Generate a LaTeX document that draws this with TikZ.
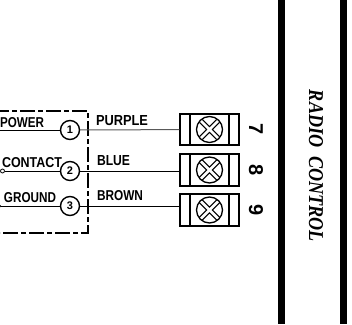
\documentclass[tikz,border=0pt]{standalone}
\usepackage{fontspec}
\setmainfont{Liberation Sans}
\newfontfamily\titlefont{Liberation Serif}
\usetikzlibrary{shapes.misc,calc}
\tikzset{
  x=1pt,y=-1pt,
  wire/.style={line width=1pt,black},
  pin/.style={circle,draw,line width=1.4pt,minimum size=19pt,inner sep=0pt,fill=white,font=\bfseries\fontsize{11}{11}\selectfont},
  term/.style={rectangle,draw,line width=1.4pt,minimum width=59pt,inner sep=0pt,fill=white},
  lab/.style={anchor=south west,inner sep=0pt,outer sep=0pt,font=\bfseries},
  bar/.style={fill=black,draw=none},
  num/.style={rotate=-90,inner sep=0pt,font=\bfseries\fontsize{20}{20}\selectfont},
}
\newcommand{\caplab}[2]{\resizebox{#1pt}{10pt}{#2}}
\newcommand{\screw}[1]{%
  \draw[line width=5pt] ($(#1.center)+(-8.6,-8.6)$) -- ($(#1.center)+(8.6,8.6)$) ($(#1.center)+(-8.6,8.6)$) -- ($(#1.center)+(8.6,-8.6)$);
  \draw[line width=2.6pt,white] ($(#1.center)+(-9.2,-9.2)$) -- ($(#1.center)+(9.2,9.2)$) ($(#1.center)+(-9.2,9.2)$) -- ($(#1.center)+(9.2,-9.2)$);
  \draw[line width=1.3pt] (#1.center) circle[radius=13pt];
}
\begin{document}
\begin{tikzpicture}
\useasboundingbox (0,0) rectangle (352,324);
\fill[white] (0,0) rectangle (352,324);
% side bars
\fill[bar] (278,0) rectangle (285,324);
\fill[bar] (340,0) rectangle (347,324);
% dashed box
\coordinate (boxa) at (0,111);
\coordinate (boxb) at (88,111);
\coordinate (boxc) at (88,233);
\coordinate (boxd) at (0,233);
\draw[line width=1.2pt,dash pattern=on 15pt off 3pt on 5pt off 3pt,dash phase=6pt] (boxa) -- (boxb) -- (boxc) -- (boxd);
% terminals
\node[term,minimum height=31pt] (t1) at (209.5,129.5) {};
\node[term,minimum height=32pt] (t2) at (209.5,170) {};
\node[term,minimum height=32pt] (t3) at (209.5,210) {};
\foreach \n in {t1,t2,t3}{
  \draw[line width=1.3pt] ([xshift=-19.5pt]\n.north) -- ([xshift=-19.5pt]\n.south);
  \draw[line width=1.3pt] ([xshift=19.5pt]\n.north) -- ([xshift=19.5pt]\n.south);
  \screw{\n}
}
% pins
\node[pin] (p1) at (70,130) {1};
\node[pin] (p2) at (70,171) {2};
\node[pin] (p3) at (70,206) {3};
% wire ends
\coordinate (w1) at (0,130);
\node[circle,draw,line width=0.8pt,minimum size=4pt,inner sep=0pt] (w2) at (2.5,171) {};
\node[circle,fill=black,minimum size=2.5pt,inner sep=0pt] (w3) at (0,206) {};
\draw[wire] (w1) -- (p1);
\draw[wire] (w2) -- (p2);
\draw[wire] (w3) -- (p3);
\draw[line width=1pt,black!65] (p1) -- (t1);
\draw[wire] (p2.east) -- (t2.west |- p2.east);
\draw[wire] (p3) -- (t3.west |- p3);
% labels
\node[lab] (lpower) at (0,128) {\caplab{44}{POWER}};
\node[lab] (lcontact) at (2,168) {\caplab{60}{CONTACT}};
\node[lab] (lground) at (4,203) {\caplab{52}{GROUND}};
\node[lab] (lpurple) at (96,125.5) {\caplab{52}{PURPLE}};
\node[lab] (lblue) at (97,166) {\caplab{33}{BLUE}};
\node[lab] (lbrown) at (97,201) {\caplab{46}{BROWN}};
% numbers
\node[num] (n7) at (256,129) {7};
\node[num] (n8) at (256,170) {8};
\node[num] (n9) at (256,210) {9};
% title
\node[rotate=-90,inner sep=0pt] (title) at (316,166) {\resizebox{152pt}{14pt}{\titlefont\bfseries\itshape RADIO\ \ CONTROL}};
\end{tikzpicture}
\end{document}
